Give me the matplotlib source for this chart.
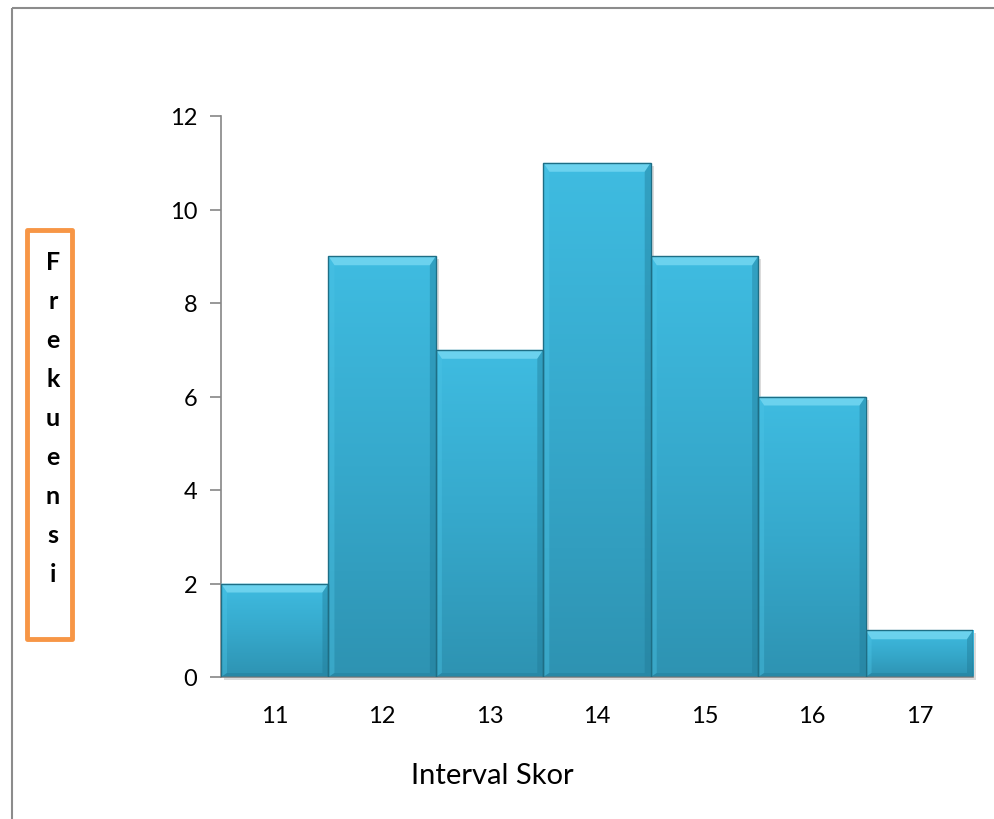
import numpy as np
import matplotlib
matplotlib.use("Agg")
import matplotlib.pyplot as plt
from matplotlib.patches import Rectangle, Polygon
from matplotlib.colors import LinearSegmentedColormap

# Frequency distribution of scores
skor = [11, 12, 13, 14, 15, 16, 17]
frekuensi = [2, 9, 7, 11, 9, 6, 1]
y_ticks = [0, 2, 4, 6, 8, 10, 12]
x_label = "Interval Skor"
y_label = "Frekuensi"

W, H = 995, 820
fig = plt.figure(figsize=(W / 100, H / 100), dpi=100)
font = ["Lato", "DejaVu Sans"]

# outer chart frame
frame = fig.add_axes([0, 0, 1, 1])
frame.set_xlim(0, W)
frame.set_ylim(H, 0)
frame.axis("off")
frame.add_patch(Rectangle((12, 9), W + 20, H + 20, fill=False,
                          edgecolor="#8C8C8C", linewidth=1.5))

# vertical axis title in an orange box
frame.add_patch(Rectangle((27, 231), 45, 409, fill=False,
                          edgecolor="#F79646", linewidth=3.5,
                          joinstyle="round"))
for i, ch in enumerate(y_label):
    frame.text(53, 263 + i * 39, ch, ha="center", va="center",
               fontsize=18, fontweight="bold", family=font, color="black")

frame.text(492, 776, x_label, ha="center", va="center",
           fontsize=21, family=font, color="black")

# plotting area
x0p, x1p, ytop, ybot = 221, 973, 117, 678
ax = fig.add_axes([x0p / W, (H - ybot) / H, (x1p - x0p) / W, (ybot - ytop) / H])
ax.set_xlim(skor[0] - 0.5, skor[-1] + 0.5)
ax.set_ylim(0, 12)

px_x = 1.0 / ((x1p - x0p) / len(skor))
px_y = 12.0 / (ybot - ytop)

cmap = LinearSegmentedColormap.from_list("bar", ["#2E93B2", "#36A9CC", "#3FBCE1"])
grad = np.linspace(0, 1, 256).reshape(-1, 1)

for xc, h in zip(skor, frekuensi):
    l, r = xc - 0.5, xc + 0.5
    # soft shadow
    ax.add_patch(Rectangle((l + 3 * px_x, -3 * px_y), 1, h, facecolor="#9A9A9A",
                           alpha=0.35, edgecolor="none", zorder=1, clip_on=False))
    im = ax.imshow(grad, extent=(l, r, 0, h), origin="lower", cmap=cmap,
                   aspect="auto", zorder=2, interpolation="bilinear")
    im.set_clip_path(Rectangle((l, 0), 1, h, transform=ax.transData))
    s, t = 6 * px_x, 9 * px_y
    sb = 4 * px_y
    # bevel faces
    ax.add_patch(Polygon([(l, h), (r, h), (r - s, h - t), (l + s, h - t)],
                         facecolor="#7FDDF5", alpha=0.7, edgecolor="none", zorder=3))
    ax.add_patch(Polygon([(l, h), (l + s, h - t), (l + s, sb), (l, 0)],
                         facecolor="#4CC4E6", alpha=0.4, edgecolor="none", zorder=3))
    ax.add_patch(Polygon([(r, h), (r - s, h - t), (r - s, sb), (r, 0)],
                         facecolor="#1F7894", alpha=0.4, edgecolor="none", zorder=3))
    ax.add_patch(Polygon([(l, 0), (l + s, sb), (r - s, sb), (r, 0)],
                         facecolor="#1F7894", alpha=0.4, edgecolor="none", zorder=3))
    ax.add_patch(Rectangle((l, 0), 1, h, fill=False, edgecolor="#1E6E85",
                           linewidth=1.0, zorder=4))

ax.set_xlim(skor[0] - 0.5, skor[-1] + 0.5)
ax.set_ylim(0, 12)
ax.set_yticks(y_ticks)
ax.set_xticks(skor)
ax.tick_params(axis="y", length=8, width=1.2, color="#868686", pad=9,
               labelsize=17, labelcolor="black")
ax.tick_params(axis="x", length=0, pad=20, labelsize=17, labelcolor="black")
for lab in ax.get_xticklabels() + ax.get_yticklabels():
    lab.set_family(font)
for side in ("top", "right"):
    ax.spines[side].set_visible(False)
for side in ("left", "bottom"):
    ax.spines[side].set_color("#868686")
    ax.spines[side].set_linewidth(1.2)
ax.set_facecolor("none")

fig.savefig("out.png", dpi=100)
